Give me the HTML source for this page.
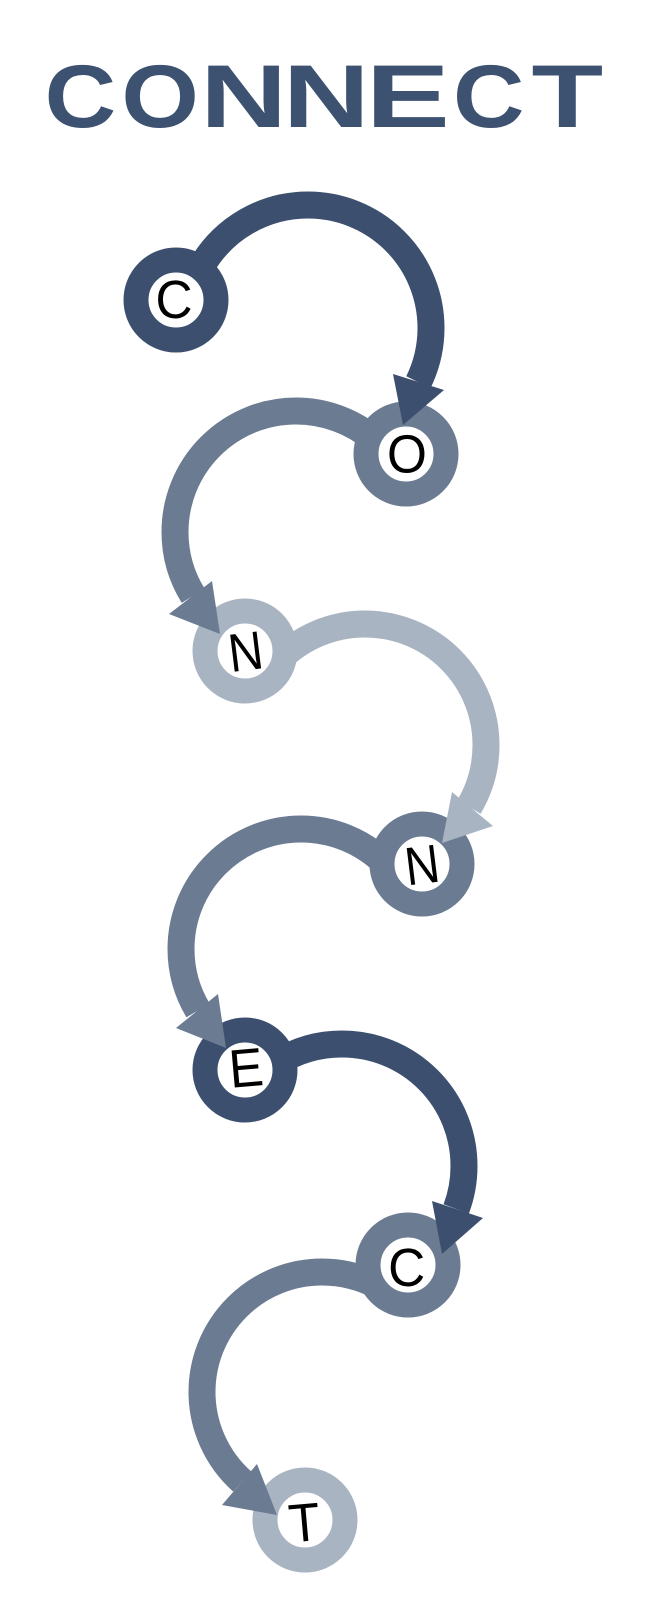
<!DOCTYPE html>
<html lang="en">
<head>
<meta charset="utf-8">
<title>CONNECT</title>
<style>
html,body{margin:0;padding:0;background:#fff;width:645px;height:1598px;overflow:hidden}
svg{display:block}
text{font-family:"Liberation Sans",sans-serif}
.t{font-size:89px;font-weight:700;fill:#3d5170}
.l{font-size:54px;fill:#000;text-anchor:middle}
.a{fill:none;stroke-width:27}
</style>
</head>
<body>
<svg width="645" height="1598" viewBox="0 0 645 1598" xmlns="http://www.w3.org/2000/svg">
  <rect width="645" height="1598" fill="#fff"/>

  <!-- Title -->
  <text class="t" transform="translate(44.6,127) scale(1.114,1)">C</text>
  <text class="t" transform="translate(121.4,127) scale(1.12,1)">O</text>
  <text class="t" transform="translate(200.2,127) scale(1.35,1)">N</text>
  <text class="t" transform="translate(282.9,127) scale(1.35,1)">N</text>
  <text class="t" transform="translate(365.8,127) scale(1.417,1)">E</text>
  <text class="t" transform="translate(453,127) scale(1.112,1)">C</text>
  <text class="t" transform="translate(531.5,127) scale(1.318,1)">T</text>

  <!-- Connector arcs -->
  <path class="a" stroke="#3c4f6e" d="M201.5 266.5 A123 123 0 0 1 308 205 A123 123 0 0 1 431 328 A123 123 0 0 1 418.4 382.2"/>
  <path class="a" stroke="#6b7b92" d="M373.8 439.3 A121 121 0 0 0 296 411 A121 121 0 0 0 175 532 A121 121 0 0 0 193.2 595.8"/>
  <path class="a" stroke="#a9b4c3" d="M279.4 659.4 A121 121 0 0 1 365 624 A121 121 0 0 1 486 745 A121 121 0 0 1 469 806.9"/>
  <path class="a" stroke="#6b7b92" d="M384.4 862.7 A120 120 0 0 0 301 829 A120 120 0 0 0 181 949 A120 120 0 0 0 198 1010.4"/>
  <path class="a" stroke="#3c4f6e" d="M277.4 1062.5 A122 122 0 0 1 342 1044 A122 122 0 0 1 464 1166 A122 122 0 0 1 456.2 1209"/>
  <path class="a" stroke="#6b7b92" d="M378.3 1286 A120 120 0 0 0 322 1272 A120 120 0 0 0 202 1392 A120 120 0 0 0 242.2 1481.5"/>

  <!-- Nodes -->
  <circle cx="176" cy="300" r="40" fill="#fff" stroke="#3c4f6e" stroke-width="25"/>
  <circle cx="406" cy="454" r="40" fill="#fff" stroke="#6b7b92" stroke-width="25"/>
  <circle cx="245" cy="651" r="40" fill="#fff" stroke="#a9b4c3" stroke-width="25"/>
  <circle cx="422" cy="864" r="40" fill="#fff" stroke="#6b7b92" stroke-width="25"/>
  <circle cx="245" cy="1070" r="40" fill="#fff" stroke="#3c4f6e" stroke-width="25"/>
  <circle cx="408" cy="1265" r="40" fill="#fff" stroke="#6b7b92" stroke-width="25"/>
  <circle cx="305" cy="1520" r="40" fill="#fff" stroke="#a9b4c3" stroke-width="25"/>

  <!-- Arrowheads -->
  <polygon fill="#3c4f6e" points="403,425 393,374 444,390"/>
  <polygon fill="#6b7b92" points="220,634 212,581 169,614"/>
  <polygon fill="#a9b4c3" points="442,843 452,792 493,826"/>
  <polygon fill="#6b7b92" points="226,1048 218,994 176,1028"/>
  <polygon fill="#3c4f6e" points="442,1254 432,1201 483,1218"/>
  <polygon fill="#6b7b92" points="277,1515 257,1464 222,1505"/>

  <!-- Node labels -->
  <text class="l" y="19.5" transform="translate(174,298.5) scale(.95,1)">C</text>
  <text class="l" y="19.5" transform="translate(407,453) scale(.95,1)">O</text>
  <text class="l" y="19.5" transform="translate(245.5,650.7) rotate(-7) scale(.88,1)">N</text>
  <text class="l" y="19.5" transform="translate(422,864) rotate(-7) scale(.88,1)">N</text>
  <text class="l" y="19.5" transform="translate(246,1067) rotate(-5) scale(.95,1)">E</text>
  <text class="l" y="19.5" transform="translate(406.7,1266.7) scale(.95,1)">C</text>
  <text class="l" y="19.5" transform="translate(304.3,1521.7) rotate(-5) scale(.95,1)">T</text>
</svg>
</body>
</html>
